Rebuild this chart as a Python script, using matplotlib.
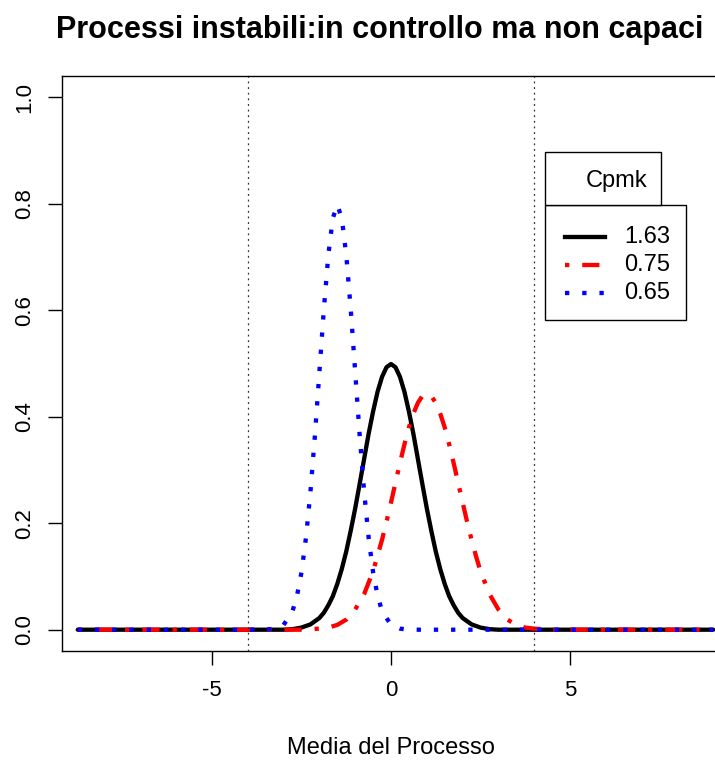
import matplotlib
matplotlib.use('Agg')
import matplotlib.pyplot as plt
from matplotlib.lines import Line2D
from matplotlib.patches import Rectangle

plt.rcParams['font.family'] = ['Liberation Sans', 'DejaVu Sans']

# ---- text / categories ----
title = "Processi instabili:in controllo ma non capaci"
xlabel = "Media del Processo"
legend_title = "Cpmk"
legend_labels = ["1.63", "0.75", "0.65"]
spec_limits = [-4, 4]
x_ticks = [-5, 0, 5]
x_tick_labels = ["-5", "0", "5"]
y_ticks = [0.0, 0.2, 0.4, 0.6, 0.8, 1.0]
y_tick_labels = ["0.0", "0.2", "0.4", "0.6", "0.8", "1.0"]

# ---- series ----
black_x = [-8.75, -3.0, -2.75, -2.5, -2.25, -2.0, -1.875, -1.75, -1.625, -1.5, -1.375, -1.25, -1.125,
           -1.0, -0.875, -0.75, -0.625, -0.5, -0.375, -0.25, -0.125, 0.0,
           0.125, 0.25, 0.375, 0.5, 0.625, 0.75, 0.875, 1.0,
           1.125, 1.25, 1.375, 1.5, 1.625, 1.75, 1.875, 2.0, 2.25, 2.5, 2.75, 3.0, 9.0]
black_y = [0.0, 0.000, 0.001, 0.004, 0.010, 0.022, 0.032, 0.046, 0.063, 0.086, 0.114, 0.147, 0.186,
           0.228, 0.274, 0.321, 0.368, 0.410, 0.447, 0.475, 0.493, 0.499,
           0.493, 0.475, 0.447, 0.410, 0.368, 0.321, 0.274, 0.228,
           0.186, 0.147, 0.114, 0.086, 0.063, 0.046, 0.032, 0.022, 0.010, 0.004, 0.001, 0.000, 0.0]

red_x = [-8.75, -2.5, -2.25, -2.0, -1.75, -1.5, -1.25, -1.0, -0.75, -0.5, -0.25, -0.125, 0.0, 0.125, 0.25,
         0.375, 0.5, 0.625, 0.75, 0.875, 1.0, 1.125, 1.25, 1.375, 1.5, 1.625, 1.75, 1.875, 2.0,
         2.125, 2.25, 2.375, 2.5, 2.75, 3.0, 3.25, 3.5, 3.75, 4.0, 4.25, 4.5, 9.0]
red_y = [0.0, 0.000, 0.001, 0.002, 0.004, 0.009, 0.019, 0.038, 0.067, 0.110, 0.169, 0.203, 0.239, 0.276, 0.313,
         0.348, 0.380, 0.406, 0.426, 0.439, 0.443, 0.439, 0.426, 0.406, 0.380, 0.348, 0.313, 0.276, 0.239,
         0.203, 0.169, 0.138, 0.110, 0.067, 0.038, 0.019, 0.009, 0.004, 0.002, 0.001, 0.000, 0.0]

blue_x = [-8.75, -3.5, -3.25, -3.0, -2.75, -2.625, -2.5, -2.375, -2.25, -2.125, -2.0, -1.875, -1.75,
          -1.625, -1.5, -1.375, -1.25, -1.125, -1.0, -0.875, -0.75, -0.625, -0.5, -0.375,
          -0.25, 0.0, 0.25, 0.5, 9.0]
blue_y = [0.0, 0.000, 0.002, 0.009, 0.035, 0.064, 0.108, 0.173, 0.259, 0.365, 0.484, 0.602, 0.704,
          0.773, 0.798, 0.773, 0.704, 0.602, 0.484, 0.365, 0.259, 0.173, 0.108, 0.064,
          0.035, 0.009, 0.002, 0.000, 0.0]

W, H = 715, 765
fig = plt.figure(figsize=(W / 100, H / 100), dpi=100)


def fx(px):
    return px / W


def fy(py):
    return 1 - py / H


# axes box in pixels: left 62, top 76, bottom 651, right beyond the image edge
ax = fig.add_axes([fx(62), fy(651), (720 - 62) / W, (651 - 76) / H])
ax.set_xlim(-9.19, 9.19)
ax.set_ylim(-0.04, 1.04)

lw = 3.1
ax.plot(black_x, black_y, color='black', lw=lw, solid_joinstyle='round', solid_capstyle='round')
ax.plot(red_x, red_y, color='#ff0000', lw=lw, linestyle=(0, (1, 3, 4, 3)))
ax.plot(blue_x, blue_y, color='#0000ff', lw=lw, linestyle=(0, (1, 3)))

for s in spec_limits:
    ax.axvline(s, color='#333333', lw=0.9, linestyle=(0, (1.5, 3)))

ax.set_xticks(x_ticks)
ax.set_xticklabels(x_tick_labels)
ax.set_yticks(y_ticks)
ax.set_yticklabels(y_tick_labels, rotation=90, va='center')
ax.tick_params(axis='both', direction='out', length=10, width=1.0, labelsize=16, colors='black')
ax.tick_params(axis='x', pad=11)
ax.tick_params(axis='y', pad=9)
for sp in ax.spines.values():
    sp.set_linewidth(1.0)

ax.set_xlabel(xlabel, fontsize=17, labelpad=26)
fig.text(0.5 * (55 + 705) / W, fy(30), title, fontsize=22, fontweight='bold', ha='center', va='center')

# ---- legend drawn as R does (title in its own box) ----
fig.add_artist(Rectangle((fx(545), fy(320)), (686 - 545) / W, (320 - 205) / H,
                         transform=fig.transFigure, facecolor='white', edgecolor='black', lw=1.0))
fig.add_artist(Rectangle((fx(545), fy(205)), (661 - 545) / W, (205 - 152) / H,
                         transform=fig.transFigure, facecolor='white', edgecolor='black', lw=1.0))
fig.text(fx(617), fy(181), legend_title, fontsize=17, ha='center', va='center')
styles = [dict(color='black', linestyle='-'),
          dict(color='#ff0000', linestyle=(0, (1, 3, 4, 3))),
          dict(color='#0000ff', linestyle=(0, (1, 3)))]
rows = [237, 265, 293]
for lab, st, r in zip(legend_labels, styles, rows):
    fig.add_artist(Line2D([fx(565), fx(605)], [fy(r), fy(r)], transform=fig.transFigure, lw=lw, **st))
    fig.text(fx(624), fy(r), lab, fontsize=17, ha='left', va='center')

fig.savefig('out.png', dpi=100)
